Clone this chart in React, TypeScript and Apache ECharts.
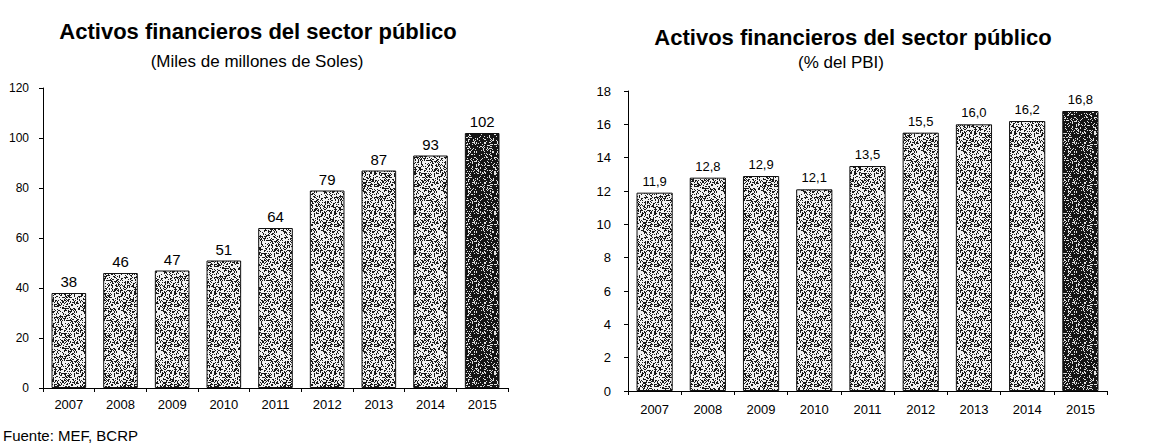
import React, { useEffect, useRef } from "react";
import * as echarts from "echarts";

const years = ["2007", "2008", "2009", "2010", "2011", "2012", "2013", "2014", "2015"];
const solesValues = [38, 46, 47, 51, 64, 79, 87, 93, 102];
const pbiValues = [11.9, 12.8, 12.9, 12.1, 13.5, 15.5, 16.0, 16.2, 16.8];
const solesAxis = { min: 0, max: 120, interval: 20 };
const pbiAxis = { min: 0, max: 18, interval: 2 };
const leftTitle = "Activos financieros del sector público";
const leftSubtitle = "(Miles de millones de Soles)";
const rightTitle = "Activos financieros del sector público";
const rightSubtitle = "(% del PBI)";
const sourceNote = "Fuente: MEF, BCRP";

const FONT = '"Liberation Sans Narrow", "Arial Narrow", "Liberation Sans", Arial, sans-serif';

// deterministic stipple texture (style only, not data)
function makeStipple(bg: string, dot: string, threshold: number): HTMLCanvasElement {
  const size = 40;
  const c = document.createElement("canvas");
  c.width = size;
  c.height = size;
  const ctx = c.getContext("2d")!;
  ctx.fillStyle = bg;
  ctx.fillRect(0, 0, size, size);
  ctx.fillStyle = dot;
  for (let i = 0; i < size; i++) {
    for (let j = 0; j < size; j++) {
      let n = (Math.imul(i, 374761393) + Math.imul(j, 668265263)) | 0;
      n = Math.imul(n ^ (n >>> 13), 1274126177);
      n = n ^ (n >>> 16);
      if ((n >>> 0) % 100 < threshold) ctx.fillRect(i, j, 1, 1);
    }
  }
  return c;
}

export default function App() {
  const ref = useRef<HTMLDivElement>(null);
  useEffect(() => {
    if (!ref.current) return;
    const chart = echarts.init(ref.current, null, { renderer: "svg" });
    const light = { image: makeStipple("#f2f2f2", "#1a1a1a", 36), repeat: "repeat" } as any;
    const dark = { image: makeStipple("#151515", "#e0e0e0", 22), repeat: "repeat" } as any;

    const mkData = (vals: number[]) =>
      vals.map((v, i) =>
        i === vals.length - 1 ? { value: v, itemStyle: { color: dark } } : { value: v }
      );

    const axisX = (gridIndex: number, margin: number) => ({
      type: "category" as const,
      gridIndex,
      data: years,
      axisLine: { show: true, lineStyle: { color: "#000", width: 1 } },
      axisTick: { show: true, length: 4, alignWithLabel: false, lineStyle: { color: "#000" } },
      axisLabel: { color: "#000", fontFamily: FONT, fontSize: 13, margin },
    });
    const axisY = (
      gridIndex: number,
      a: { min: number; max: number; interval: number },
      margin: number,
      fontSize: number
    ) => ({
      type: "value" as const,
      gridIndex,
      min: a.min,
      max: a.max,
      interval: a.interval,
      axisLine: { show: true, lineStyle: { color: "#000", width: 1 } },
      axisTick: { show: true, length: 4, lineStyle: { color: "#000" } },
      splitLine: { show: false },
      axisLabel: { color: "#000", fontFamily: FONT, fontSize, margin },
    });

    chart.setOption({
      animation: false,
      backgroundColor: "#fff",
      grid: [
        { left: 43, top: 88, width: 465, height: 300 },
        { left: 628, top: 91, width: 479, height: 300 },
      ],
      xAxis: [axisX(0, 10), axisX(1, 12)],
      yAxis: [axisY(0, solesAxis, 14, 12), axisY(1, pbiAxis, 17, 13)],
      series: [
        {
          type: "bar",
          xAxisIndex: 0,
          yAxisIndex: 0,
          data: mkData(solesValues),
          barCategoryGap: "33%",
          itemStyle: { color: light, borderColor: "#111", borderWidth: 1 },
          label: {
            show: true,
            position: "top",
            distance: 4,
            color: "#000",
            fontFamily: FONT,
            fontSize: 15,
          },
        },
        {
          type: "bar",
          xAxisIndex: 1,
          yAxisIndex: 1,
          data: mkData(pbiValues),
          barCategoryGap: "32%",
          itemStyle: { color: light, borderColor: "#111", borderWidth: 1 },
          label: {
            show: true,
            position: "top",
            distance: 5,
            color: "#000",
            fontFamily: FONT,
            fontSize: 13,
            formatter: (p: any) => Number(p.value).toFixed(1).replace(".", ","),
          },
        },
      ],
      graphic: [
        {
          type: "text",
          x: 258,
          y: 31,
          style: { text: leftTitle, fill: "#000", font: `bold 22px ${FONT}`, textAlign: "center", textVerticalAlign: "middle" },
        },
        {
          type: "text",
          x: 257,
          y: 61,
          style: { text: leftSubtitle, fill: "#000", font: `17px ${FONT}`, textAlign: "center", textVerticalAlign: "middle" },
        },
        {
          type: "text",
          x: 853,
          y: 37,
          style: { text: rightTitle, fill: "#000", font: `bold 22px ${FONT}`, textAlign: "center", textVerticalAlign: "middle" },
        },
        {
          type: "text",
          x: 841,
          y: 62,
          style: { text: rightSubtitle, fill: "#000", font: `17px ${FONT}`, textAlign: "center", textVerticalAlign: "middle" },
        },
        {
          type: "text",
          x: 3,
          y: 435,
          style: { text: sourceNote, fill: "#000", font: `15px ${FONT}`, textAlign: "left", textVerticalAlign: "middle" },
        },
      ],
    });
    return () => chart.dispose();
  }, []);
  return (
    <div
      ref={ref}
      style={{ position: "absolute", left: 0, top: 0, width: 1156, height: 446, background: "#fff" }}
    />
  );
}
